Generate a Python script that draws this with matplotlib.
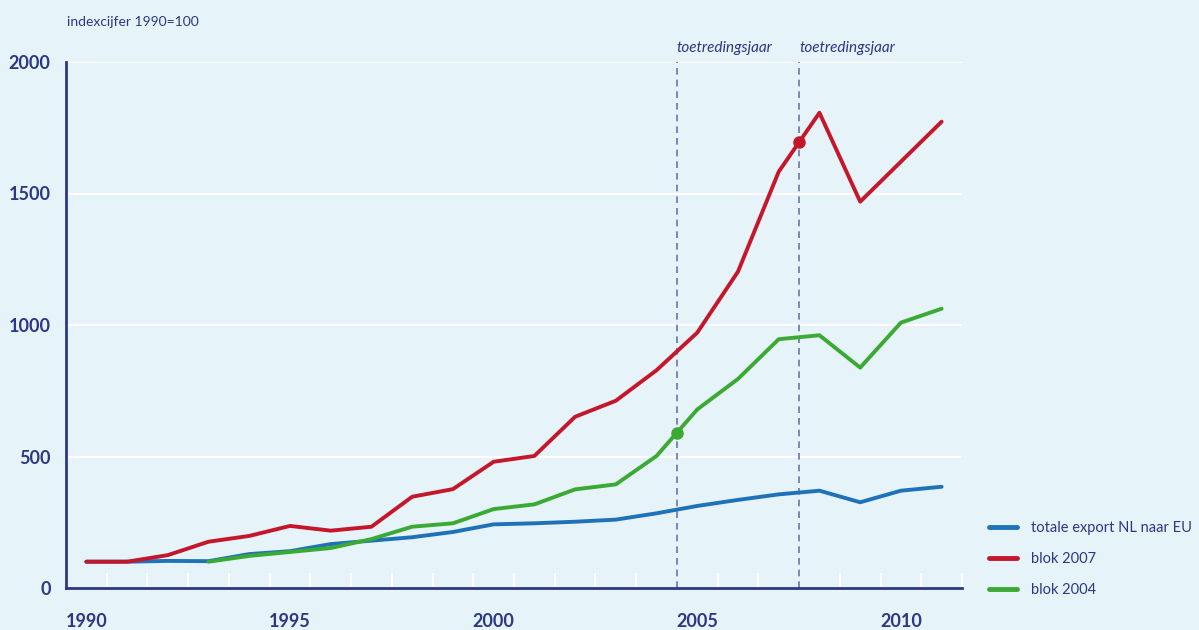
import numpy as np
import matplotlib
matplotlib.use("Agg")
import matplotlib.pyplot as plt

# indexcijfers 1990=100
jaren = list(range(1990, 2012))
totaal_nl_eu = [100, 100, 103, 102, 129, 140, 167, 180, 193, 213, 242, 246,
                252, 260, 284, 312, 335, 356, 370, 326, 370, 385]
blok_2007 = [100, 100, 125, 176, 198, 236, 218, 233, 347, 376, 480, 502,
             651, 712, 828, 971, 1203, 1583, 1807, 1469, 1621, 1773]
jaren_2004 = list(range(1993, 2012))
blok_2004 = [100, 122, 137, 152, 186, 233, 246, 300, 318, 375, 394, 502,
             679, 795, 946, 961, 838, 1009, 1062]
toetreding = [2004.5, 2007.5]   # blok 2004 en blok 2007
jaar_labels = [1990, 1995, 2000, 2005, 2010]
y_ticks = [0, 500, 1000, 1500, 2000]

bg = "#E6F3F8"
navy = "#2C3785"
c_blauw = "#1F72B8"
c_rood = "#C4172C"
c_groen = "#3BAA35"

plt.rcParams['font.family'] = ['Lato', 'DejaVu Sans']

fig = plt.figure(figsize=(11.99, 6.30), dpi=100, facecolor=bg)
ax = fig.add_axes([66/1199, 1-588/630, (962-66)/1199, (588-62)/630])
ax.set_facecolor(bg)
ax.set_xlim(1989.5, 2011.5)
ax.set_ylim(0, 2000)

# witte rasterlijnen
for v in y_ticks[1:]:
    ax.axhline(v, color="white", lw=1.5, zorder=1)

# lijnen
ax.plot(jaren, totaal_nl_eu, color=c_blauw, lw=2.8, zorder=3, solid_capstyle="round",
        label="totale export NL naar EU")
ax.plot(jaren, blok_2007, color=c_rood, lw=2.8, zorder=4, solid_capstyle="round",
        label="blok 2007")
ax.plot(jaren_2004, blok_2004, color=c_groen, lw=2.8, zorder=3, solid_capstyle="round",
        label="blok 2004")

# toetredingsjaren
for t in toetreding:
    ax.axvline(t, color="#6A76A8", lw=1.2, ls=(0, (4, 3)), zorder=2)
    ax.text(t, 2025, "toetredingsjaar", style="italic", color=navy, fontsize=11,
            ha="left", va="bottom")
ax.plot([toetreding[0]], [np.interp(toetreding[0], jaren_2004, blok_2004)], "o",
        color=c_groen, ms=8, zorder=5)
ax.plot([toetreding[1]], [np.interp(toetreding[1], jaren, blok_2007)], "o",
        color=c_rood, ms=8, zorder=5)

# assen
for s in ["top", "right"]:
    ax.spines[s].set_visible(False)
for s in ["left", "bottom"]:
    ax.spines[s].set_color(navy)
    ax.spines[s].set_linewidth(2)

# witte tickstreepjes op de grens tussen jaren
ax.set_xticks([j + 0.5 for j in jaren if j + 0.5 not in toetreding], minor=True)
ax.tick_params(axis="x", which="minor", direction="in", length=11, width=1.5,
               color="white")
ax.set_xticks(jaar_labels)
ax.set_xticklabels([str(j) for j in jaar_labels], fontweight="bold", fontsize=13,
                   color=navy)
ax.tick_params(axis="x", which="major", length=0, pad=18)

ax.set_yticks(y_ticks)
ax.set_yticklabels([str(v) for v in y_ticks], fontweight="bold", fontsize=13, color=navy)
ax.tick_params(axis="y", length=0, pad=11)

fig.text(67/1199, 1-22/630, "indexcijfer 1990=100", color=navy, fontsize=10,
         ha="left", va="center")

leg = ax.legend(loc="lower left", bbox_to_anchor=(976/1199, 1-610/630),
                bbox_transform=fig.transFigure, frameon=False, fontsize=10.5,
                handlelength=1.9, handletextpad=1.0, labelspacing=1.15,
                labelcolor=navy)
for h in leg.get_lines():
    h.set_linewidth(3.5)

fig.savefig("out.png", dpi=100, facecolor=bg)
